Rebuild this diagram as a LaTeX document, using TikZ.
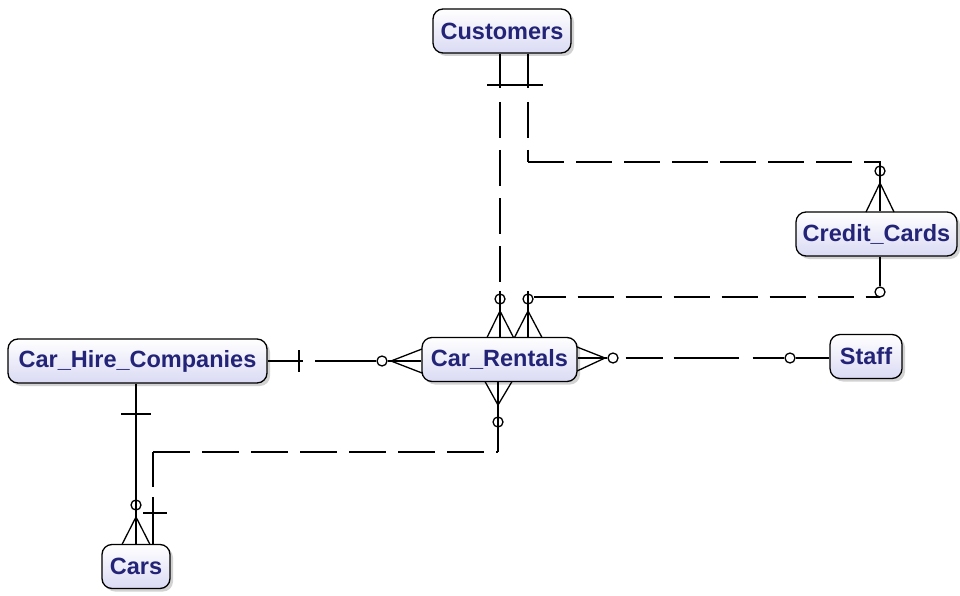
\documentclass[tikz,border=0pt]{standalone}
\usepackage{fontspec}
\setmainfont{Liberation Sans}
\usetikzlibrary{shadows}
\definecolor{navy}{RGB}{35,35,120}
\definecolor{lav}{RGB}{218,218,244}
\tikzset{
  ent/.style={draw=black, line width=1.3pt, rounded corners=10pt,
    top color=white, bottom color=lav,
    drop shadow={shadow xshift=3pt, shadow yshift=-3pt, opacity=0.35, fill=gray},
    text=navy, font=\fontsize{23.5}{26}\selectfont\bfseries,
    minimum height=44pt, inner sep=0pt},
  ln/.style={line width=1.3pt, black},
  rel/.style={line width=1.3pt, black, dash pattern=on 36pt off 12pt},
  opt/.style={draw, circle, line width=1.3pt, minimum size=10pt, inner sep=0pt}
}
\begin{document}
\begin{tikzpicture}[x=1pt,y=-1pt]
\fill[white] (0,0) rectangle (960,596);
\useasboundingbox (0,0) rectangle (960,596);

% entities
\node[ent, minimum width=138pt] (cust)  at (502,31)    {Customers};
\node[ent, minimum width=161pt] (cc)    at (876.5,234) {Credit\_Cards};
\node[ent, minimum width=155pt] (cr)    at (499.5,359.5) {Car\_Rentals};
\node[ent, minimum width=259pt] (chc)   at (137.5,361) {Car\_Hire\_Companies};
\node[ent, minimum width=72pt]  (staff) at (866,356.5) {Staff};
\node[ent, minimum width=68pt]  (cars)  at (136,566.5) {Cars};

% helper coordinates
\coordinate (xA) at (500,0);
\coordinate (xB) at (528,0);
\coordinate (xH) at (136,0);
\coordinate (xF) at (153,0);
\coordinate (yC) at (0,297);

% A: Customers -> Car_Rentals
\node[opt] (oA) at (500,299) {};
\draw[ln] (cust.south -| xA) -- (500,88);
\draw[rel] (500,102) -- (500,291);
\draw[ln] (500,291) -- (cr.north -| xA);
\draw[ln] (487,337.5) -- (500,311) -- (513.5,337.5);

% crossbar on Customers side (shared)
\draw[ln] (487,85) -- (543,85);

% B: Customers -> Credit_Cards
\node[opt] (oB) at (880,171) {};
\draw[ln] (cust.south -| xB) -- (528,88);
\draw[rel] (528,102) -- (528,162);
\draw[rel] (528,162) -- (880,162);
\draw[ln] (868,162) -- (880,162) -- (cc.north -| oB);
\draw[ln] (866,212) -- (880,183) -- (894,212);

% C: Credit_Cards -> Car_Rentals
\node[opt] (oC) at (528,299) {};
\node[opt] (oC2) at (880,292) {};
\draw[ln] (cc.south -| oC2) -- (oC2.north);
\draw[rel, dash pattern=on 32pt off 12pt on 36pt off 12pt on 36pt off 12pt on 36pt off 12pt on 36pt off 12pt on 36pt off 12pt on 36pt off 12pt on 36pt off 12pt] (oC.east |- yC) -- (880,297);
\draw[ln] (528,291) -- (cr.north -| xB);
\draw[ln] (514.5,337.5) -- (528,311) -- (542,337.5);

% D: Car_Hire_Companies -> Car_Rentals
\node[opt] (oD) at (382,361) {};
\draw[ln] (chc.east) -- (303,361);
\draw[ln] (299,350) -- (299,372);
\draw[ln] (315,361) -- (oD.west);
\draw[ln] (oD.east) -- (cr.west |- oD);
\draw[ln] (422,349) -- (391,361) -- (422,373);

% E: Car_Rentals -> Staff
\node[opt] (oE) at (613,358) {};
\node[opt] (oF) at (790,358) {};
\draw[ln] (cr.east |- oE) -- (oE.west);
\draw[ln] (577,347) -- (605,358) -- (577,371);
\draw[ln, dash pattern=on 0pt off 7pt on 37pt off 11pt on 65pt off 14pt on 40pt off 0pt] (oE.east) -- (oF.west);
\draw[ln] (oF.east) -- (staff.west |- oF);

% F: Car_Rentals -> Cars
\node[opt] (oG) at (498,422) {};
\draw[ln] (cr.south -| oG) -- (oG.south) -- (498,452);
\draw[ln] (485,381.5) -- (498,405) -- (512,381.5);
\draw[rel, dash pattern=on 37pt off 12pt] (153,452) -- (498,452);
\draw[ln] (153,452) -- (153,487);
\draw[ln] (153,497) -- (cars.north -| xF);
\draw[ln] (143,513) -- (167,513);

% G: Car_Hire_Companies -> Cars
\node[opt] (oH) at (136,505) {};
\draw[ln] (chc.south -| xH) -- (cars.north -| xH);
\draw[ln] (121,414) -- (151,414);
\draw[ln] (122,544.5) -- (136,517) -- (150,544.5);
\end{tikzpicture}
\end{document}
